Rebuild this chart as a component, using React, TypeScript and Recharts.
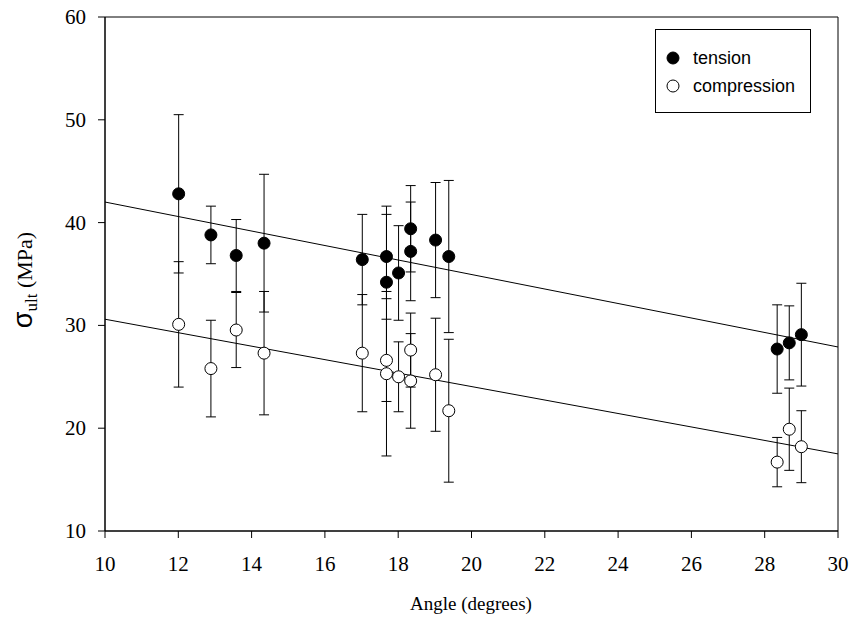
import React from 'react';
import { ScatterChart, Scatter, XAxis, YAxis, ErrorBar, ReferenceArea, Legend } from 'recharts';

// angle of each specimen group (degrees)
const angles = [12.01, 12.89, 13.58, 14.34, 17.02, 17.68, 17.68, 18.01, 18.34, 18.34, 19.02, 19.38, 28.34, 28.67, 29.0];
const tension = [42.8, 38.8, 36.8, 38.0, 36.4, 36.7, 34.2, 35.1, 39.4, 37.2, 38.3, 36.7, 27.7, 28.3, 29.1];
const tensionErr = [7.7, 2.8, 3.5, 6.7, 4.4, 4.1, 7.4, 4.6, 4.2, 4.8, 5.6, 7.4, 4.3, 3.6, 5.0];
const compression = [30.1, 25.8, 29.55, 27.3, 27.3, 26.6, 25.3, 25.0, 27.6, 24.6, 25.2, 21.7, 16.7, 19.9, 18.2];
const compressionErr = [6.1, 4.7, 3.65, 6.0, 5.7, 4.0, 8.0, 3.4, 3.6, 4.6, 5.5, 6.95, 2.4, 4.0, 3.5];

// regression line end points
const fitX = [10, 30];
const fitTension = [42.0, 27.9];
const fitCompression = [30.6, 17.5];

const xTicks = [10, 12, 14, 16, 18, 20, 22, 24, 26, 28, 30];
const yTicks = [10, 20, 30, 40, 50, 60];

const tensionData = angles.map((x, i) => ({ x, y: tension[i], err: tensionErr[i] }));
const compressionData = angles.map((x, i) => ({ x, y: compression[i], err: compressionErr[i] }));
const tensionFit = fitX.map((x, i) => ({ x, y: fitTension[i] }));
const compressionFit = fitX.map((x, i) => ({ x, y: fitCompression[i] }));

const serif = '"Liberation Serif", "Times New Roman", serif';
const sans = '"Liberation Sans", Arial, sans-serif';

const FilledDot = (p: any) => <circle cx={p.cx} cy={p.cy} r={6} fill="#000" stroke="#000" strokeWidth={1} />;
const OpenDot = (p: any) => <circle cx={p.cx} cy={p.cy} r={6} fill="#fff" stroke="#000" strokeWidth={1} />;
const NoDot = () => <g />;

const XTick = (p: any) => (
  <text x={p.x} y={p.y} dy={15} textAnchor="middle" fontFamily={serif} fontSize={21} fill="#000">
    {p.payload.value}
  </text>
);

const YTick = (p: any) => (
  <text x={p.x} y={p.y} dy={7} textAnchor="end" fontFamily={serif} fontSize={21} fill="#000">
    {p.payload.value}
  </text>
);

const LegendBox = () => (
  <div style={{ border: '1px solid #000', background: '#fff', width: 156, height: 84, boxSizing: 'border-box', fontFamily: sans, fontSize: 18, position: 'relative' }}>
    {[
      { name: 'tension', fill: '#000' },
      { name: 'compression', fill: '#fff' },
    ].map((d, i) => (
      <div key={d.name} style={{ position: 'absolute', left: 10, top: 18 + i * 28, height: 20, display: 'flex', alignItems: 'center' }}>
        <svg width={14} height={14} style={{ marginRight: 13 }}>
          <circle cx={7} cy={7} r={6} fill={d.fill} stroke="#000" strokeWidth={1} />
        </svg>
        <span>{d.name}</span>
      </div>
    ))}
  </div>
);

const YTitle = () => (
  <text x={32} y={280} transform="rotate(-90, 32, 280)" textAnchor="middle" fontFamily={serif} fontSize={22} fill="#000">
    <tspan fontFamily={sans} fontSize={27}>σ</tspan>
    <tspan fontSize={17} dy={5}>ult</tspan>
    <tspan dy={-5}> (MPa)</tspan>
  </text>
);

const XTitle = () => (
  <text x={471} y={610} textAnchor="middle" fontFamily={serif} fontSize={19} fill="#000">
    Angle (degrees)
  </text>
);

export default function App() {
  return (
    <div style={{ position: 'absolute', left: 0, top: 0, background: '#fff' }}>
      <ScatterChart width={853} height={630} margin={{ top: 17, right: 15, bottom: 0, left: 35 }}>
        <XAxis
          type="number"
          dataKey="x"
          domain={[10, 30]}
          ticks={xTicks}
          interval={0}
          height={99}
          tickSize={7}
          tickMargin={18}
          stroke="#000"
          tick={<XTick />}
          label={{ content: () => <XTitle /> }}
        />
        <YAxis
          type="number"
          dataKey="y"
          domain={[10, 60]}
          ticks={yTicks}
          interval={0}
          width={70}
          tickSize={7}
          tickMargin={12}
          stroke="#000"
          tick={<YTick />}
          label={{ content: () => <YTitle /> }}
        />
        <ReferenceArea x1={10} x2={30} y1={10} y2={60} fill="none" stroke="#000" strokeWidth={1} />
        <Scatter data={tensionFit} line={{ stroke: '#000', strokeWidth: 1 }} shape={NoDot} legendType="none" isAnimationActive={false} />
        <Scatter data={compressionFit} line={{ stroke: '#000', strokeWidth: 1 }} shape={NoDot} legendType="none" isAnimationActive={false} />
        <Scatter name="compression" data={compressionData} shape={OpenDot} isAnimationActive={false}>
          <ErrorBar dataKey="err" direction="y" width={5} stroke="#000" strokeWidth={1} isAnimationActive={false} />
        </Scatter>
        <Scatter name="tension" data={tensionData} shape={FilledDot} isAnimationActive={false}>
          <ErrorBar dataKey="err" direction="y" width={5} stroke="#000" strokeWidth={1} isAnimationActive={false} />
        </Scatter>
        <Legend
          layout="vertical"
          align="center"
          verticalAlign="middle"
          content={() => <LegendBox />}
          wrapperStyle={{ left: 655, top: 29, width: 156, height: 84 }}
        />
      </ScatterChart>
    </div>
  );
}
